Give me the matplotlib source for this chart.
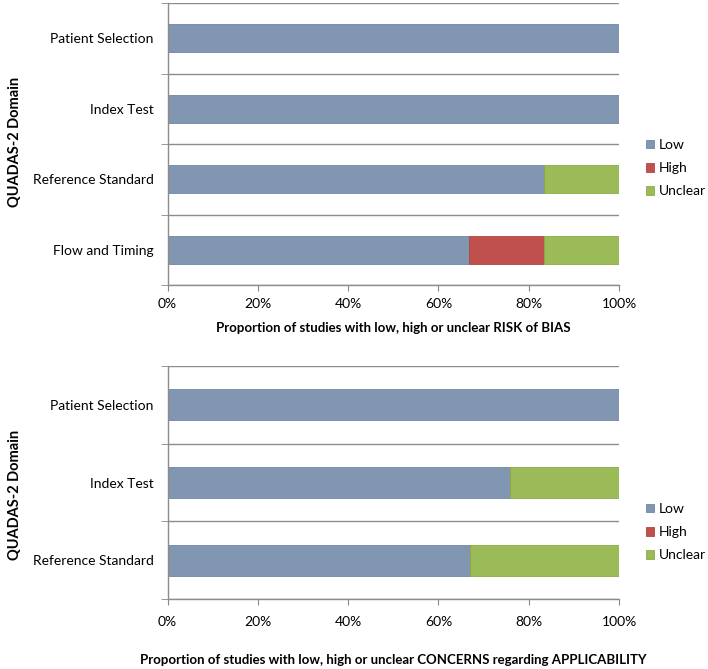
# QUADAS-2 risk of bias / applicability summary (stacked horizontal bars)

import numpy as np
import matplotlib.pyplot as plt

# dados
bias_domains = ['Patient Selection', 'Index Test', 'Reference Standard', 'Flow and Timing']
bias_low = [100, 100, 83.3, 66.7]
bias_high = [0, 0, 0, 16.7]
bias_unclear = [0, 0, 16.7, 16.6]

appl_domains = ['Patient Selection', 'Index Test', 'Reference Standard']
appl_low = [100, 75.9, 66.9]
appl_high = [0, 0, 0]
appl_unclear = [0, 24.1, 33.1]

series_names = ['Low', 'High', 'Unclear']
colors = ['#8196b0', '#c0504d', '#9bbb59']
edge_colors = ['#6f86a6', '#b04542', '#8aad47']

xticks = [0, 20, 40, 60, 80, 100]
xtick_labels = ['0%', '20%', '40%', '60%', '80%', '100%']

plt.rcParams['font.family'] = ['Lato', 'DejaVu Sans']

W, H = 708, 669
fig = plt.figure(figsize=(W / 100, H / 100), dpi=100)


def px_axes(left, right, top, bottom):
    return fig.add_axes([left / W, 1 - bottom / H, (right - left) / W, (bottom - top) / H])


def draw_panel(ax, domains, low, high, unclear, xlabel, xlabel_y, tick_pad):
    y = np.arange(len(domains))
    left = np.zeros(len(domains))
    for vals, c, ec, name in zip([low, high, unclear], colors, edge_colors, series_names):
        ax.barh(y, vals, left=left, height=0.4, color=c, edgecolor=ec, linewidth=0.6, label=name)
        left = left + np.array(vals)
    ax.set_xlim(0, 100)
    ax.set_ylim(len(domains) - 0.5, -0.5)
    ax.set_yticks(y)
    ax.set_yticklabels(domains, fontsize=10)
    ax.tick_params(axis='y', length=0, pad=10)
    # separadores entre categorias
    ax.set_yticks(np.arange(-0.5, len(domains), 1), minor=True)
    ax.tick_params(axis='y', which='minor', length=5, color='#888888', direction='out')
    ax.grid(True, axis='y', which='minor', color='#8c8c8c', linewidth=1.0)
    ax.set_axisbelow(True)
    ax.set_xticks(xticks)
    ax.set_xticklabels(xtick_labels, fontsize=10)
    ax.tick_params(axis='x', length=4, color='#888888', pad=tick_pad)
    for s in ['right', 'top']:
        ax.spines[s].set_visible(False)
    for s in ['left', 'bottom']:
        ax.spines[s].set_color('#8c8c8c')
        ax.spines[s].set_linewidth(1.0)
    fig.text(393 / W, 1 - xlabel_y / H, xlabel, ha='center', va='center',
             fontsize=9.5, fontweight='bold')


def add_legend(ax, center_y):
    ax.legend(loc='center left', bbox_to_anchor=(646 / W, 1 - center_y / H),
              bbox_transform=fig.transFigure, frameon=False, fontsize=10,
              handlelength=0.6, handleheight=0.6, handletextpad=0.35,
              labelspacing=0.8, borderpad=0, borderaxespad=0)


ax1 = px_axes(167.5, 619, 3, 285)
draw_panel(ax1, bias_domains, bias_low, bias_high, bias_unclear,
           'Proportion of studies with low, high or unclear RISK of BIAS', 328, 5)
add_legend(ax1, 168)
fig.text(15 / W, 1 - 142 / H, 'QUADAS-2 Domain', rotation=90, ha='center', va='center',
         fontsize=10.5, fontweight='bold')

ax2 = px_axes(167.5, 619, 366, 599)
draw_panel(ax2, appl_domains, appl_low, appl_high, appl_unclear,
           'Proportion of studies with low, high or unclear CONCERNS regarding APPLICABILITY', 660, 8)
add_legend(ax2, 532)
fig.text(15 / W, 1 - 495 / H, 'QUADAS-2 Domain', rotation=90, ha='center', va='center',
         fontsize=10.5, fontweight='bold')

plt.savefig('out.png', dpi=100)
